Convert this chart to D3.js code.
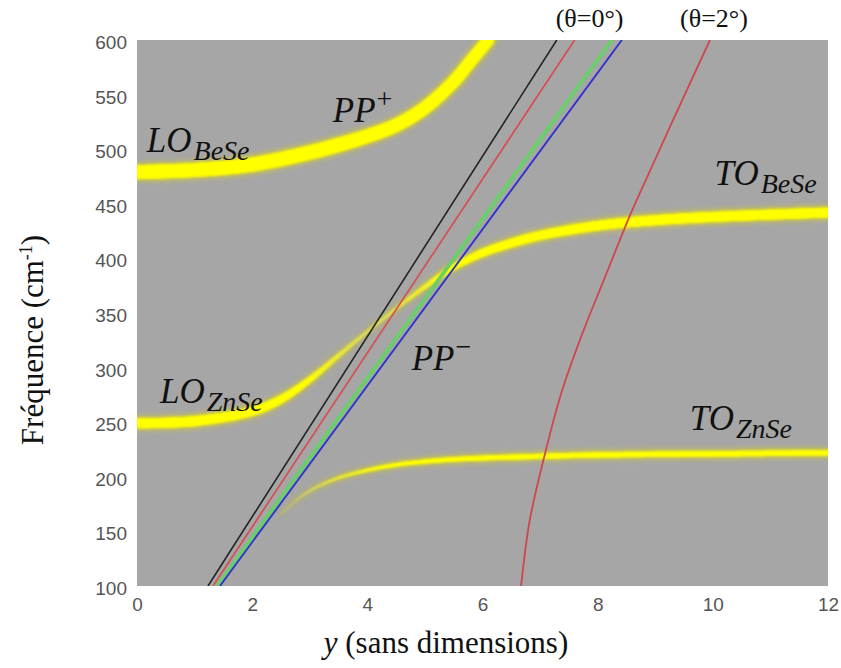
<!DOCTYPE html>
<html><head><meta charset="utf-8">
<script src="https://cdn.jsdelivr.net/npm/d3@7"></script>
<style>body{margin:0;background:#fff}</style>
</head><body><svg id="c" width="841" height="668"></svg>
<script>
// ---------- data ----------
const xTicks = [0, 2, 4, 6, 8, 10, 12];
const yTicks = [100, 150, 200, 250, 300, 350, 400, 450, 500, 550, 600];

// upper polariton PP+ (from LO BeSe)
const upperY = [0, 1, 2, 3, 3.5, 4, 4.5, 5, 5.5, 5.8, 6.1];
const upperF = [479, 481, 486, 497, 504, 512, 522, 538, 562, 581, 600];
const upperStrength = [1, 1, 1, 1, 1, 0.97, 0.95, 0.92, 0.9, 0.88, 0.86];

// middle polariton (LO ZnSe -> TO BeSe)
const midY = [0, 1, 2, 2.5, 3, 3.5, 4, 4.5, 5, 5.5, 6, 6.5, 7, 8, 9, 10, 12];
const midF = [249, 251, 260, 271, 289, 311, 333, 354, 374, 392, 405, 414, 421, 430, 435, 438, 442];
const midStrength = [1, 1, 0.92, 0.8, 0.6, 0.4, 0.26, 0.3, 0.45, 0.62, 0.78, 0.86, 0.9, 0.95, 1, 1, 1];

// lower polariton PP- (-> TO ZnSe)
const lowY = [2.5, 2.8, 3.1, 3.5, 4, 4.5, 5, 5.5, 6.5, 8, 10, 12];
const lowF = [166, 180, 190, 199, 206, 211, 214, 216, 218, 220, 221, 222];
const lowStrength = [0.08, 0.18, 0.3, 0.42, 0.55, 0.65, 0.72, 0.78, 0.85, 0.9, 0.92, 0.92];

// light lines (theta = 0°): y at f = 100 and at f = 600
const lightNames = ["noir", "rouge", "vert", "bleu"];
const lightF = [100, 600];
const lightYStart = [1.233, 1.32, 1.39, 1.44];
const lightYEnd = [7.29, 7.60, 8.25, 8.42];

// theta = 2° curve
const theta2Y = [6.67, 6.82, 7.08, 7.37, 7.74, 8.09, 8.44, 8.64, 9.95];
const theta2F = [100, 160, 220, 277, 332, 378, 424, 449, 600];

// ---------- chart ----------
const svg = d3.select("#c");
const x = d3.scaleLinear().domain([0, 12]).range([137, 828]);
const y = d3.scaleLinear().domain([100, 600]).range([586, 40]);

const defs = svg.append("defs");
defs.append("clipPath").attr("id", "clip").append("rect")
  .attr("x", x(0)).attr("y", y(600)).attr("width", x(12) - x(0)).attr("height", y(100) - y(600));
defs.append("filter").attr("id", "glow").attr("x", "-20%").attr("y", "-20%").attr("width", "140%").attr("height", "140%")
  .append("feGaussianBlur").attr("stdDeviation", 2.4);
defs.append("filter").attr("id", "soft")
  .append("feGaussianBlur").attr("stdDeviation", 0.8);

svg.append("rect").attr("x", x(0)).attr("y", y(600))
  .attr("width", x(12) - x(0)).attr("height", y(100) - y(600)).attr("fill", "#a6a6a6");

const plot = svg.append("g").attr("clip-path", "url(#clip)");

const lineGen = d3.line().x(d => x(d[0])).y(d => y(d[1])).curve(d3.curveCatmullRom.alpha(0.5));

function band(ys, fs, st, maxW) {
  const pts = ys.map((v, i) => [v, fs[i]]);
  const tmp = plot.append("path").attr("d", lineGen(pts)).attr("fill", "none").attr("stroke", "none");
  const node = tmp.node();
  const L = node.getTotalLength();
  const sScale = d3.scaleLinear().domain(ys).range(st).clamp(true);
  const samples = [];
  for (let l = 0; l <= L; l += 1.5) samples.push(node.getPointAtLength(l));
  samples.push(node.getPointAtLength(L));
  tmp.remove();
  const segs = [];
  for (let i = 0; i < samples.length - 1; i++) {
    const a = samples[i], b = samples[i + 1];
    const s = sScale(x.invert((a.x + b.x) / 2));
    segs.push({a, b, s});
  }
  const glow = plot.append("g").attr("filter", "url(#glow)").attr("opacity", 0.75);
  glow.selectAll("line").data(segs).join("line")
    .attr("x1", d => d.a.x).attr("y1", d => d.a.y).attr("x2", d => d.b.x).attr("y2", d => d.b.y)
    .attr("stroke", d => d3.interpolateRgb("#b0ad70", "#d8d020")(d.s))
    .attr("stroke-width", d => Math.max(1, d.s * maxW + 4)).attr("stroke-linecap", "round");
  const core = plot.append("g").attr("filter", "url(#soft)");
  core.selectAll("line").data(segs).join("line")
    .attr("x1", d => d.a.x).attr("y1", d => d.a.y).attr("x2", d => d.b.x).attr("y2", d => d.b.y)
    .attr("stroke", d => d3.interpolateRgb("#c8c890", "#ffff00")(Math.min(1, d.s * 1.6)))
    .attr("stroke-width", d => Math.max(0.8, d.s * maxW)).attr("stroke-linecap", "round");
}

band(upperY, upperF, upperStrength, 14);
band(midY, midF, midStrength, 10);
band(lowY, lowF, lowStrength, 6);

const lightColors = ["#1c1c1c", "#d84a50", "#66d066", "#2b2bd0"];
const lightWidths = [1.6, 1.7, 3.8, 1.9];
lightNames.forEach((n, i) => {
  plot.append("path")
    .attr("d", lineGen([[lightYStart[i], lightF[0]], [lightYEnd[i], lightF[1]]]))
    .attr("fill", "none").attr("stroke", lightColors[i]).attr("stroke-width", lightWidths[i])
    .attr("opacity", 0.95);
});

plot.append("path").attr("d", lineGen(theta2Y.map((v, i) => [v, theta2F[i]])))
  .attr("fill", "none").attr("stroke", "#d0404a").attr("stroke-width", 1.8).attr("opacity", 0.95);

// axes
const tickFont = "'Liberation Sans', Arial, sans-serif";
const ax = svg.append("g").attr("transform", `translate(0,${y(100)})`)
  .call(d3.axisBottom(x).tickValues(xTicks).tickSize(0).tickPadding(12).tickFormat(d3.format("d")));
const ay = svg.append("g").attr("transform", `translate(${x(0)},0)`)
  .call(d3.axisLeft(y).tickValues(yTicks).tickSize(0).tickPadding(10).tickFormat(d3.format("d")));
[ax, ay].forEach(g => {
  g.select(".domain").remove();
  g.selectAll("text").attr("font-family", tickFont).attr("font-size", 19).attr("fill", "#555");
});
ay.selectAll("text").attr("dy", "0.45em");

// axis titles
svg.append("text").attr("transform", `translate(43,340) rotate(-90)`)
  .attr("text-anchor", "middle").attr("font-family", "'Liberation Serif', 'Times New Roman', serif")
  .attr("font-size", 31).attr("fill", "#111")
  .call(t => {
    t.append("tspan").text("Fréquence (cm");
    t.append("tspan").attr("font-size", 18).attr("dy", -11).text("-1");
    t.append("tspan").attr("dy", 11).text(")");
  });
svg.append("text").attr("x", 446).attr("y", 653)
  .attr("text-anchor", "middle").attr("font-family", "'Liberation Serif', 'Times New Roman', serif")
  .attr("font-size", 31).attr("fill", "#111")
  .call(t => {
    t.append("tspan").attr("font-style", "italic").text("y");
    t.append("tspan").text(" (sans dimensions)");
  });

// theta labels
[["(θ=0°)", 7.86], ["(θ=2°)", 10.02]].forEach(([s, v]) => {
  svg.append("text").attr("x", x(v)).attr("y", y(600) - 13).attr("text-anchor", "middle")
    .attr("font-family", "'Liberation Serif', 'Times New Roman', serif").attr("font-size", 26)
    .attr("fill", "#111").text(s);
});

// mode labels
const mathFont = "'Liberation Serif', 'Times New Roman', serif";
const labels = [
  {main: "LO", sub: "BeSe", px: 0.17, f: 497},
  {main: "PP", sup: "+", px: 3.40, f: 525},
  {main: "TO", sub: "BeSe", px: 10.03, f: 467},
  {main: "PP", sup: "\u2212", px: 4.77, f: 298},
  {main: "LO", sub: "ZnSe", px: 0.40, f: 268},
  {main: "TO", sub: "ZnSe", px: 9.60, f: 243}
];
labels.forEach(l => {
  const t = svg.append("text").attr("x", x(l.px)).attr("y", y(l.f))
    .attr("font-family", mathFont).attr("font-style", "italic").attr("fill", "#111").attr("font-size", 35);
  t.append("tspan").text(l.main);
  if (l.sub) t.append("tspan").attr("font-size", 28).attr("dx", 2).attr("dy", 8).text(l.sub);
  if (l.sup) t.append("tspan").attr("font-size", 28).attr("font-style", "normal").attr("dx", 1).attr("dy", -14).text(l.sup);
});
</script>
</body></html>
